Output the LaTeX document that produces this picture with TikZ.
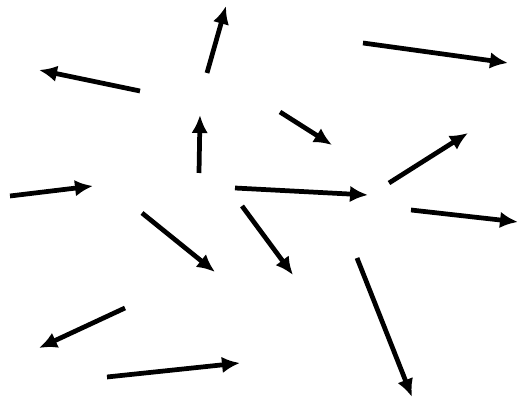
\documentclass[tikz,border=0pt]{standalone}
\usetikzlibrary{arrows.meta}
\tikzset{
  strayarrow/.style={
    draw=black,
    line width=2.7pt,
    -{Latex[length=3.6mm,width=3.3mm]}
  }
}
\begin{document}
\begin{tikzpicture}[x=0.02cm,y=-0.02cm]
  \useasboundingbox (0,0) rectangle (521,401);
  \foreach \tx/\ty/\hx/\hy in {
      207/73/226/6, 140/91/39/70, 363/43/508/63, 199/173/200/115,
      280/112/332/145, 10/196/93/186, 235/188/368/195, 389/183/468/133,
      411/210/518/222, 142/213/215/272, 242/206/293/275, 357/258/412/397,
      125/308/39/348, 107/377/240/363}{
    \coordinate (tail) at (\tx,\ty);
    \coordinate (head) at (\hx,\hy);
    \draw[strayarrow] (tail) -- (head);
  }
\end{tikzpicture}
\end{document}
